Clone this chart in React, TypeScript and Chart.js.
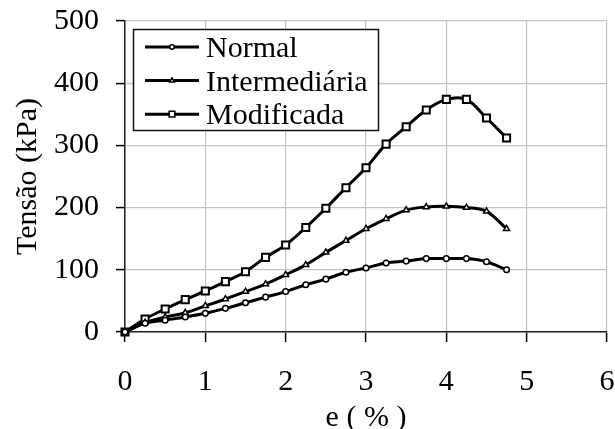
import { useEffect, useRef } from 'react';
import { Chart, registerables } from 'chart.js';
import type { Plugin } from 'chart.js';

Chart.register(...registerables);

const strain = [0, 0.25, 0.5, 0.75, 1, 1.25, 1.5, 1.75, 2, 2.25, 2.5, 2.75, 3, 3.25, 3.5, 3.75, 4, 4.25, 4.5, 4.75];
const normal = [0, 14, 19, 24, 30, 38, 47, 56, 65, 76, 85, 96, 103, 111, 114, 118, 118, 118, 113, 100];
const intermediaria = [0, 15, 24, 31, 42, 53, 65, 77, 92, 108, 128, 147, 166, 182, 196, 201, 202, 200, 194, 166];
const modificada = [0, 21, 37, 52, 66, 81, 97, 120, 140, 168, 199, 232, 264, 302, 330, 357, 374, 374, 344, 312];

const seriesNames = ['Normal', 'Intermediária', 'Modificada'];
const seriesValues = [normal, intermediaria, modificada];
const markerStyles = ['circle', 'triangle', 'rect'];
const markerSizes = [2.8, 3.4, 5];

const FONT = 'Liberation Serif, "Times New Roman", serif';

function drawMarker(ctx: CanvasRenderingContext2D, style: string, x: number, y: number, r: number) {
    ctx.beginPath();
    if (style === 'circle') {
        ctx.arc(x, y, r, 0, Math.PI * 2);
    } else if (style === 'triangle') {
        let rad = 0;
        ctx.moveTo(x + Math.sin(rad) * r, y - Math.cos(rad) * r);
        rad += (2 * Math.PI) / 3;
        ctx.lineTo(x + Math.sin(rad) * r, y - Math.cos(rad) * r);
        rad += (2 * Math.PI) / 3;
        ctx.lineTo(x + Math.sin(rad) * r, y - Math.cos(rad) * r);
        ctx.closePath();
    } else {
        const s = r * Math.SQRT1_2;
        ctx.rect(x - s, y - s, 2 * s, 2 * s);
    }
    ctx.fill();
    ctx.stroke();
}

// legend drawn inside the plot, top-left, like the Excel original
const boxLegend: Plugin<'line'> = {
    id: 'boxLegend',
    afterDraw(chart) {
        const { ctx, chartArea } = chart;
        const left = chartArea.left + 8;
        const top = chartArea.top + 8;
        const w = 246;
        const h = 102;
        ctx.save();
        ctx.fillStyle = '#fff';
        ctx.fillRect(left, top, w, h);
        ctx.strokeStyle = '#111';
        ctx.lineWidth = 1.5;
        ctx.strokeRect(left + 0.5, top + 0.5, w - 1, h - 1);
        ctx.font = `30px ${FONT}`;
        ctx.textBaseline = 'alphabetic';
        chart.data.datasets.forEach((ds, i) => {
            const y = top + 18 + i * 33.6;
            ctx.strokeStyle = '#000';
            ctx.lineWidth = 3;
            ctx.beginPath();
            ctx.moveTo(left + 12, y);
            ctx.lineTo(left + 66, y);
            ctx.stroke();
            ctx.fillStyle = '#fff';
            ctx.lineWidth = 1.5;
            drawMarker(ctx, markerStyles[i], left + 39, y, markerSizes[i] * 0.8);
            ctx.fillStyle = '#000';
            ctx.fillText(ds.label ?? '', left + 73, y + 10);
        });
        ctx.restore();
    },
};

export default function App() {
    const canvasRef = useRef<HTMLCanvasElement>(null);

    useEffect(() => {
        document.body.style.margin = '0';
        if (!canvasRef.current) return;

        const chart = new Chart(canvasRef.current, {
            type: 'line',
            data: {
                datasets: seriesNames.map((name, i) => ({
                    label: name,
                    data: strain.map((x, j) => ({ x, y: seriesValues[i][j] })),
                    borderColor: '#000',
                    borderWidth: 3,
                    backgroundColor: '#fff',
                    pointStyle: markerStyles[i] as any,
                    pointRadius: markerSizes[i],
                    pointBorderWidth: i === 2 ? 2 : 1.5,
                    pointBorderColor: '#000',
                    pointBackgroundColor: '#fff',
                    tension: 0.35,
                    clip: false as any,
                })),
            },
            options: {
                responsive: true,
                maintainAspectRatio: false,
                animation: false,
                layout: { padding: { top: 21, right: 8, left: 0, bottom: 0 } },
                plugins: {
                    legend: { display: false },
                    tooltip: { enabled: false },
                },
                scales: {
                    x: {
                        type: 'linear',
                        min: 0,
                        max: 6,
                        ticks: {
                            stepSize: 1,
                            padding: 22,
                            color: '#000',
                            font: { family: FONT, size: 30 },
                        },
                        grid: {
                            color: '#c4c4c4',
                            lineWidth: 1.2,
                            tickLength: 10,
                            tickColor: '#000',
                            tickWidth: 1.5,
                        },
                        border: { color: '#222', width: 1.5 },
                        title: {
                            display: true,
                            text: 'e ( % )',
                            color: '#000',
                            font: { family: FONT, size: 30, lineHeight: 0.6 },
                            padding: { top: 0, bottom: 2 },
                        },
                        afterFit: (scale) => {
                            scale.height = 97;
                            scale.paddingLeft = 0;
                            scale.paddingRight = 0;
                        },
                    },
                    y: {
                        min: 0,
                        max: 500,
                        ticks: {
                            stepSize: 100,
                            padding: 17,
                            color: '#000',
                            font: { family: FONT, size: 30 },
                        },
                        grid: {
                            color: '#c4c4c4',
                            lineWidth: 1.2,
                            tickLength: 9,
                            tickColor: '#000',
                            tickWidth: 1.5,
                        },
                        border: { color: '#222', width: 1.5 },
                        title: {
                            display: true,
                            text: 'Tensão (kPa)',
                            color: '#000',
                            font: { family: FONT, size: 30 },
                            padding: { top: 10, bottom: 0 },
                        },
                        afterFit: (scale) => {
                            scale.width = 125;
                            scale.paddingTop = 0;
                            scale.paddingBottom = 0;
                        },
                    },
                },
            },
            plugins: [boxLegend],
        });

        return () => chart.destroy();
    }, []);

    return (
        <div style={{ position: 'relative', width: 615, height: 429 }}>
            <canvas ref={canvasRef} />
        </div>
    );
}
